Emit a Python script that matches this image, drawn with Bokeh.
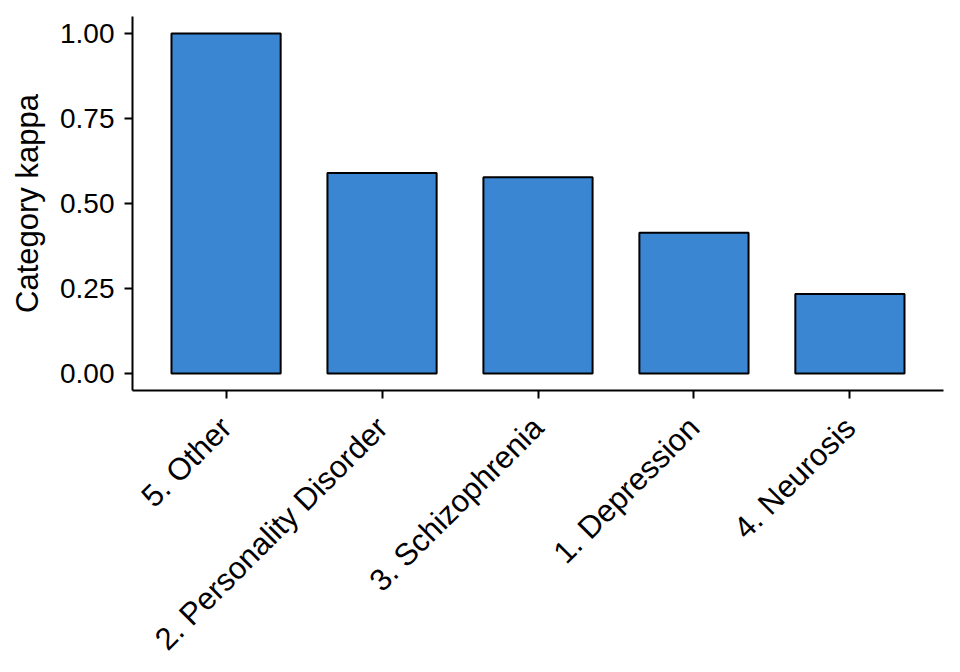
import math
from bokeh.plotting import figure
from bokeh.models import FactorRange, Range1d, FixedTicker, ColumnDataSource, NumeralTickFormatter
from bokeh.embed import file_html
from bokeh.resources import INLINE

categories = ["5. Other", "2. Personality Disorder", "3. Schizophrenia", "1. Depression", "4. Neurosis"]
kappa = [1.00, 0.590, 0.577, 0.414, 0.234]
y_ticks = [0.0, 0.25, 0.5, 0.75, 1.0]

src = ColumnDataSource(dict(cat=categories, kappa=kappa))

FONT = "Liberation Sans"

p = figure(
    x_range=FactorRange(factors=categories, range_padding=0.1, range_padding_units="absolute"),
    y_range=Range1d(-0.05, 1.05),
    frame_width=811, frame_height=374,
    min_border_left=132, min_border_top=16, min_border_right=17, min_border_bottom=282,
    output_backend="svg", toolbar_location=None,
)
p.vbar(x="cat", top="kappa", bottom=0, width=0.7, source=src,
       fill_color="#3b86d3", line_color="black", line_width=2)

p.xgrid.visible = False
p.ygrid.visible = False
p.outline_line_color = None

p.yaxis.ticker = FixedTicker(ticks=y_ticks)
p.yaxis.formatter = NumeralTickFormatter(format="0.00")
p.yaxis.axis_label = "Category kappa"

for ax in (p.xaxis[0], p.yaxis[0]):
    ax.axis_line_width = 2
    ax.axis_line_color = "black"
    ax.major_tick_line_width = 2
    ax.major_tick_line_color = "black"
    ax.major_tick_out = 8
    ax.major_tick_in = 0
    ax.minor_tick_out = 0
    ax.minor_tick_in = 0
    ax.major_label_text_font = FONT
    ax.major_label_text_color = "black"
    ax.axis_label_text_font = FONT
    ax.axis_label_text_font_style = "normal"
    ax.axis_label_text_color = "black"

p.yaxis.major_label_text_font_size = "28px"
p.yaxis.axis_label_text_font_size = "31px"
p.yaxis.major_label_standoff = 10
p.yaxis.axis_label_standoff = 12
p.xaxis.major_label_text_font_size = "31px"
p.xaxis.major_label_orientation = math.pi / 4
p.xaxis.major_label_standoff = 24

open("out.html", "w").write(file_html(p, INLINE))
